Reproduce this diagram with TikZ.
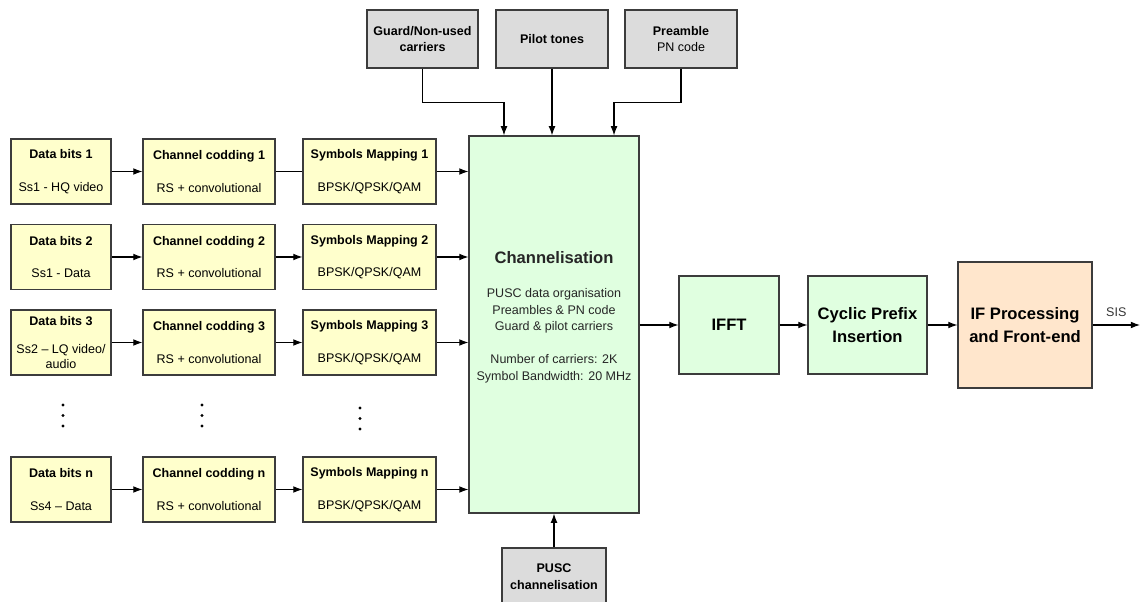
\documentclass[tikz,border=0pt]{standalone}
\usepackage{fontspec}
\setmainfont{Liberation Sans}
\usetikzlibrary{positioning, calc, arrows.meta}

\definecolor{bitsyellow}{HTML}{FFFFCC}
\definecolor{chgreen}{HTML}{E0FFE0}
\definecolor{srcgray}{HTML}{DCDCDC}
\definecolor{rforange}{HTML}{FFE6CC}
\definecolor{edgegray}{HTML}{3C3C3C}

\tikzset{
  blk/.style={draw=edgegray, line width=0.8pt, align=center, inner sep=0pt,
    font=\fontsize{8.9}{11}\selectfont},
  ybox/.style={blk, fill=bitsyellow, minimum height=1.625cm},
  gbox/.style={blk, fill=srcgray, minimum width=2.8cm, minimum height=1.45cm},
  bigbox/.style={blk, fill=chgreen, minimum height=2.45cm,
    font=\fontsize{11.8}{16.4}\selectfont\bfseries},
  arr/.style={-{Latex[length=6.5pt,width=4.8pt]}, line width=0.75pt},
}

\begin{document}
\begin{tikzpicture}[x=0.025cm, y=-0.025cm]
    % Frame
    \useasboundingbox (0,0) rectangle (1141,602);
    \clip (0,0) rectangle (1141,602);

    % Sub-stream chains
    \node[ybox, minimum width=2.5cm] (d1) at (61,171.5) {\textbf{Data bits 1}\\[12pt]Ss1 - HQ video};
    \node[ybox, minimum width=3.3cm] (c1) at (209,171.5) {\textbf{Channel codding 1}\\[12pt]RS + convolutional};
    \node[ybox, minimum width=3.325cm] (s1) at (369.5,171.5) {\textbf{Symbols Mapping 1}\\[12pt]BPSK/QPSK/QAM};

    \node[ybox, minimum width=2.5cm] (d2) at (61,257) {\textbf{Data bits 2}\\[12pt]Ss1 - Data};
    \node[ybox, minimum width=3.3cm] (c2) at (209,257) {\textbf{Channel codding 2}\\[12pt]RS + convolutional};
    \node[ybox, minimum width=3.325cm] (s2) at (369.5,257) {\textbf{Symbols Mapping 2}\\[12pt]BPSK/QPSK/QAM};

    \node[ybox, minimum width=2.5cm] (d3) at (61,342.5) {\textbf{Data bits 3}\\[9pt]Ss2 – LQ video/\\audio};
    \node[ybox, minimum width=3.3cm] (c3) at (209,342.5) {\textbf{Channel codding 3}\\[12pt]RS + convolutional};
    \node[ybox, minimum width=3.325cm] (s3) at (369.5,342.5) {\textbf{Symbols Mapping 3}\\[12pt]BPSK/QPSK/QAM};

    \node[ybox, minimum width=2.5cm] (dn) at (61,489.5) {\textbf{Data bits n}\\[12pt]Ss4 – Data};
    \node[ybox, minimum width=3.3cm] (cn) at (209,489.5) {\textbf{Channel codding n}\\[12pt]RS + convolutional};
    \node[ybox, minimum width=3.325cm] (sn) at (369.5,489.5) {\textbf{Symbols Mapping n}\\[12pt]BPSK/QPSK/QAM};

    % Vertical dots
    \foreach \x/\y in {63/405, 202/405, 360/408}
        \foreach \k in {0,1,2}
            \fill (\x,\y+\k*10.5) circle (1.2pt);

    % Channelisation block
    \node[blk, fill=chgreen, minimum width=4.25cm, minimum height=9.425cm] (chan) at (554,324.5) {};
    \node[font=\fontsize{8.9}{11.7}\selectfont, align=center, text=black!85] (chantxt) at (554,317)
        {{\fontsize{11.8}{14}\selectfont\bfseries Channelisation}\\[13pt]PUSC data organisation\\Preambles \& PN code\\Guard \& pilot carriers\\[11.7pt]Number of carriers: 2K\\Symbol Bandwidth: 20 MHz};

    % Carrier sources
    \node[gbox, minimum width=2.775cm] (guard) at (422.5,39) {\textbf{Guard/Non-used}\\\textbf{carriers}};
    \node[gbox] (pilot) at (552,39) {\textbf{Pilot tones}};
    \node[gbox] (pre) at (681,39) {\textbf{Preamble}\\PN code};
    \node[gbox, minimum width=2.6cm, minimum height=1.425cm, font=\fontsize{8.9}{12}\selectfont] (pusc) at (554,576.5) {\textbf{PUSC}\\\textbf{channelisation}};

    % Output chain
    \node[bigbox, minimum width=2.5cm] (ifft) at (729,325) {IFFT};
    \node[bigbox, minimum width=2.975cm] (cp) at (867.5,325) {Cyclic Prefix\\Insertion};
    \node[bigbox, fill=rforange, minimum width=3.35cm, minimum height=3.15cm] (ifp) at (1025,325) {IF Processing\\and Front-end};
    \coordinate (sis) at (1140,325);

    % Connectors
    \foreach \r in {1,2,3,n}
        \draw[arr] (d\r) -- (c\r);
    \draw[line width=0.75pt] (c1) -- (s1);
    \foreach \r in {2,3,n}
        \draw[arr] (c\r) -- (s\r);
    \foreach \r in {1,2,3,n}
        \draw[arr] (s\r.east) -- (s\r.east -| chan.west);

    \draw[arr] (guard.south) -- ++(0,34) -| ([xshift=-1.25cm]chan.north);
    \draw[arr] (pilot.south) -- (pilot.south |- chan.north);
    \draw[arr] (pre.south) -- ++(0,34) -| ([xshift=1.5cm]chan.north);
    \draw[arr] (pusc.north) -- (chan.south);

    \draw[arr] (chan.east |- ifft.west) -- (ifft.west);
    \draw[arr] (ifft) -- (cp);
    \draw[arr] (cp) -- (ifp);
    \draw[arr] (ifp.east) -- (sis) node[midway, above=2pt, font=\fontsize{8.9}{11}\selectfont, text=black!80] {SIS};
\end{tikzpicture}
\end{document}
